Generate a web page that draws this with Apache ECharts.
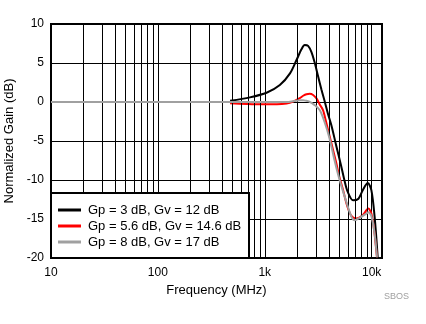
<!DOCTYPE html>
<html>
<head>
<meta charset="utf-8">
<script src="https://cdn.jsdelivr.net/npm/echarts@6/dist/echarts.min.js"></script>
<style>
  html, body { margin: 0; padding: 0; background: #fff; }
  #chart { width: 426px; height: 324px; }
</style>
</head>
<body>
<div id="chart"></div>
<script>
// Frequency response, normalized gain vs frequency (MHz)
const seriesNames = [
  'Gp = 3 dB, Gv = 12 dB',
  'Gp = 5.6 dB, Gv = 14.6 dB',
  'Gp = 8 dB, Gv = 17 dB'
];

const freqA = [474, 726, 1040, 1384, 1722, 1982, 2203, 2366, 2543, 2735, 2938, 3155, 3390, 3640, 3900, 4205, 4645, 5166, 5557, 5967, 6700, 7530, 8260, 9200, 9940, 10660, 11400];
const gainA = [0.15, 0.59, 1.18, 2.17, 3.67, 5.38, 6.75, 7.3, 7.2, 6.4, 5.0, 3.3, 1.6, 0.05, -1.5, -3.0, -5.5, -8.1, -10.0, -11.5, -12.6, -12.4, -11.3, -10.4, -11.3, -14.7, -20];

const freqB = [474, 676, 900, 1300, 1600, 1842, 2125, 2286, 2455, 2637, 2833, 3048, 3266, 3508, 3741, 4168, 4645, 4993, 5358, 5900, 6460, 7190, 8260, 9310, 9940, 10660, 11220];
const gainB = [-0.15, -0.25, -0.3, -0.3, -0.2, 0.05, 0.5, 0.8, 1.0, 1.05, 0.9, 0.46, -0.31, -1.05, -2.5, -5.1, -7.7, -9.6, -11.1, -13.3, -14.6, -14.95, -14.5, -13.66, -14.3, -16.9, -19.9];

const freqC = [10, 100, 1000, 1600, 1850, 2125, 2286, 2455, 2637, 2938, 3266, 3614, 4027, 4484, 4993, 5557, 6460, 6934, 7900, 8925, 9310, 9940, 10660, 11220];
const gainC = [0, 0, 0, 0, 0.1, 0.22, 0.24, 0.15, 0.03, -0.4, -1.04, -2.5, -4.6, -7.4, -9.9, -12.0, -14.7, -15.16, -14.75, -14.3, -14.15, -14.6, -16.9, -19.9];

const xTickLabels = { 10: '10', 100: '100', 1000: '1k', 10000: '10k' };
const minorFreqs = [20, 30, 40, 50, 60, 70, 80, 90, 200, 300, 400, 500, 600, 700, 800, 900, 2000, 3000, 4000, 5000, 6000, 7000, 8000, 9000];

const colors = ['#000000', '#ff0000', '#a0a0a0'];
const font = '"Liberation Sans", Arial, sans-serif';

function pairs(xs, ys) { return xs.map((x, i) => [x, ys[i]]); }

const chart = echarts.init(document.getElementById('chart'), null, { renderer: 'canvas' });

const curves = [[freqA, gainA], [freqB, gainB], [freqC, gainC]].map((d, i) => ({
  name: seriesNames[i],
  type: 'line',
  data: pairs(d[0], d[1]),
  showSymbol: false,
  symbol: 'none',
  smooth: 0.3,
  z: 3 + i,
  lineStyle: { color: colors[i], width: 2 },
  itemStyle: { color: colors[i] },
  clip: true
}));

chart.setOption({
  animation: false,
  backgroundColor: '#fff',
  textStyle: { fontFamily: font },
  grid: {
    left: 51, right: 44, top: 24, bottom: 66,
    containLabel: false,
    outerBoundsMode: 'none',
    show: true, borderColor: '#000', borderWidth: 2, backgroundColor: 'transparent'
  },
  xAxis: {
    type: 'log',
    logBase: 10,
    min: 10,
    max: 12500,
    name: 'Frequency (MHz)',
    nameLocation: 'middle',
    nameGap: 25,
    nameTextStyle: { color: '#000', fontSize: 13, fontFamily: font },
    axisLine: { show: false },
    axisTick: { show: false },
    axisLabel: {
      color: '#000', fontSize: 12, fontFamily: font, margin: 9,
      showMaxLabel: false,
      formatter: v => xTickLabels[Math.round(v)] || ''
    },
    splitLine: { show: true, lineStyle: { color: '#000', width: 1 } }
  },
  yAxis: {
    type: 'value',
    min: -20,
    max: 10,
    interval: 5,
    name: 'Normalized Gain (dB)',
    nameLocation: 'middle',
    nameGap: 35,
    nameTextStyle: { color: '#000', fontSize: 13, fontFamily: font },
    axisLine: { show: false },
    axisTick: { show: false },
    axisLabel: { color: '#000', fontSize: 12, fontFamily: font, margin: 7 },
    splitLine: { show: true, lineStyle: { color: '#000', width: 1 } }
  },
  legend: {
    data: seriesNames,
    orient: 'vertical',
    left: 51,
    top: 193,
    z: 60,
    padding: [9, 8, 8, 7],
    itemGap: 0,
    itemWidth: 23,
    itemHeight: 3,
    icon: 'rect',
    textStyle: { color: '#000', fontSize: 13, lineHeight: 16, fontFamily: font, padding: [0, 0, 0, 2] }
  },
  graphic: [{
    type: 'rect',
    z: 50,
    shape: { x: 51, y: 193, width: 198, height: 65 },
    style: { fill: '#fff', stroke: '#000', lineWidth: 2 }
  }, {
    type: 'text',
    left: 384,
    top: 292,
    style: { text: 'SBOS', fill: '#a0a0a0', font: '9px ' + font }
  }],
  series: [{
    name: 'minor-grid',
    type: 'line',
    data: [],
    z: 1,
    silent: true,
    markLine: {
      silent: true,
      symbol: ['none', 'none'],
      label: { show: false },
      lineStyle: { color: '#000', width: 1, type: 'solid' },
      emphasis: { disabled: true },
      data: minorFreqs.map(f => ({ xAxis: f }))
    }
  }].concat(curves)
});
</script>
</body>
</html>
